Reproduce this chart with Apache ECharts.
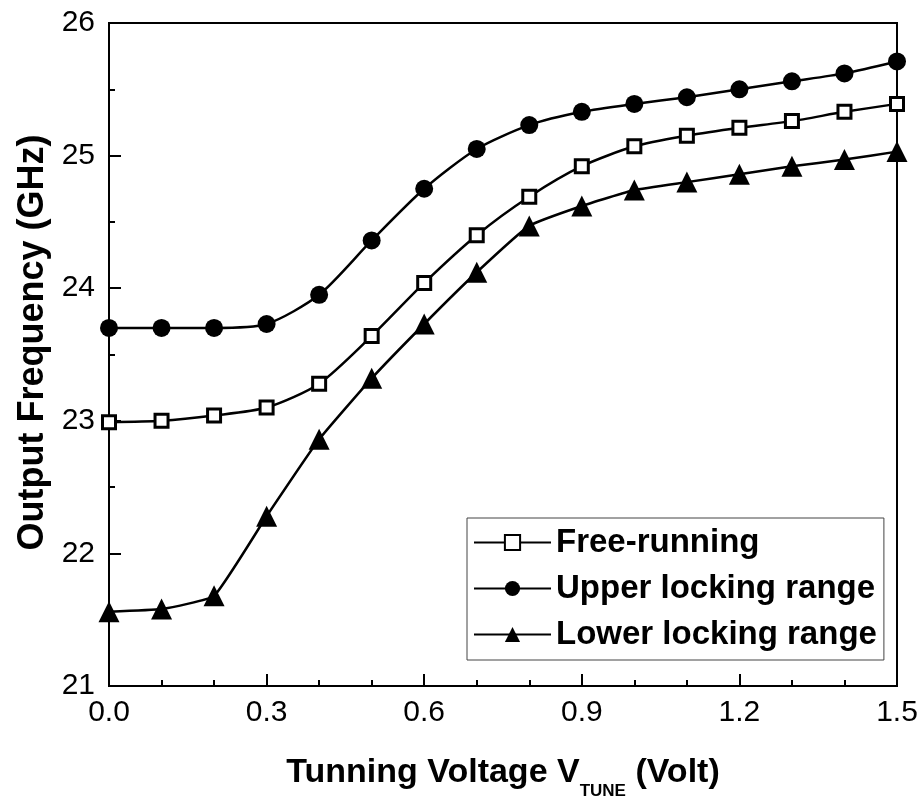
<!DOCTYPE html>
<html>
<head>
<meta charset="utf-8">
<script src="https://cdn.jsdelivr.net/npm/echarts@6/dist/echarts.min.js"></script>
<style>
html,body{margin:0;padding:0;background:#fff;}
#c{width:922px;height:805px;}
</style>
</head>
<body>
<div id="c"></div>
<script>
var voltage = [0.0, 0.1, 0.2, 0.3, 0.4, 0.5, 0.6, 0.7, 0.8, 0.9, 1.0, 1.1, 1.2, 1.3, 1.4, 1.5];
var freeRunning = [22.99, 23.00, 23.04, 23.10, 23.28, 23.64, 24.04, 24.40, 24.69, 24.92, 25.07, 25.15, 25.21, 25.26, 25.33, 25.39];
var upperLocking = [23.70, 23.70, 23.70, 23.73, 23.95, 24.36, 24.75, 25.05, 25.23, 25.33, 25.39, 25.44, 25.50, 25.56, 25.62, 25.71];
var lowerLocking = [21.56, 21.58, 21.68, 22.28, 22.86, 23.32, 23.73, 24.12, 24.47, 24.62, 24.74, 24.80, 24.86, 24.92, 24.97, 25.03];
var seriesNames = ['Free-running', 'Upper locking range', 'Lower locking range'];

function pairs(ys) { return voltage.map(function (x, i) { return [x, ys[i]]; }); }

var FONT = '"Liberation Sans", Arial, sans-serif';
var chart = echarts.init(document.getElementById('c'), null, {renderer: 'canvas'});

var common = {
  type: 'line',
  lineStyle: {color: '#000', width: 2.5},
  z: 3
};

chart.setOption({
  backgroundColor: '#fff',
  animation: false,
  grid: {left: 109, right: 25, top: 23, bottom: 118, show: true, borderColor: '#000', borderWidth: 2, backgroundColor: 'transparent'},
  legend: {
    orient: 'vertical',
    left: 467, top: 518,
    padding: [8, 7, 9, 6],
    itemGap: 13,
    itemWidth: 77, itemHeight: 19,
    borderColor: '#444', borderWidth: 1,
    textStyle: {fontFamily: FONT, fontWeight: 'bold', fontSize: 33, color: '#000'},
    data: seriesNames
  },
  xAxis: {
    type: 'value', min: 0, max: 1.5, interval: 0.3,
    name: '{a|Tunning Voltage V}{s|TUNE}{a| (Volt)}',
    nameLocation: 'middle', nameGap: 70,
    nameTextStyle: {
      padding: [0, 0, 0, 0],
      rich: {
        a: {fontFamily: FONT, fontWeight: 'bold', fontSize: 34, color: '#000', lineHeight: 44, verticalAlign: 'top'},
        s: {fontFamily: FONT, fontWeight: 'bold', fontSize: 17, color: '#000', lineHeight: 18, verticalAlign: 'bottom'}
      }
    },
    axisLine: {show: true, lineStyle: {color: '#000', width: 2}},
    axisTick: {show: true, inside: true, length: 12, lineStyle: {color: '#000', width: 2}},
    minorTick: {show: true, splitNumber: 3, length: 6, lineStyle: {color: '#000', width: 2}},
    splitLine: {show: false},
    axisLabel: {fontFamily: FONT, fontSize: 30, color: '#000', margin: 12, formatter: function (v) { return v.toFixed(1); }}
  },
  yAxis: {
    type: 'value', min: 21, max: 26, interval: 1,
    name: 'Output Frequency (GHz)',
    nameLocation: 'middle', nameGap: 58,
    nameTextStyle: {fontFamily: FONT, fontWeight: 'bold', fontSize: 36, color: '#000', padding: [0, 0, 0, 24]},
    axisLine: {show: true, lineStyle: {color: '#000', width: 2}},
    axisTick: {show: true, inside: true, length: 12, lineStyle: {color: '#000', width: 2}},
    minorTick: {show: true, splitNumber: 2, length: 6, lineStyle: {color: '#000', width: 2}},
    splitLine: {show: false},
    axisLabel: {fontFamily: FONT, fontSize: 30, color: '#000', margin: 14}
  },
  series: [
    Object.assign({}, common, {
      name: seriesNames[0], data: pairs(freeRunning), smooth: 0.25,
      symbol: 'rect', symbolSize: 13,
      itemStyle: {color: '#fff', borderColor: '#000', borderWidth: 3}
    }),
    Object.assign({}, common, {
      name: seriesNames[1], data: pairs(upperLocking), smooth: 0.25,
      symbol: 'circle', symbolSize: 18,
      itemStyle: {color: '#000', borderColor: '#000', borderWidth: 0}
    }),
    Object.assign({}, common, {
      name: seriesNames[2], data: pairs(lowerLocking), smooth: 0.12,
      symbol: 'triangle', symbolSize: 21,
      itemStyle: {color: '#000', borderColor: '#000', borderWidth: 0}
    })
  ]
});
</script>
</body>
</html>
